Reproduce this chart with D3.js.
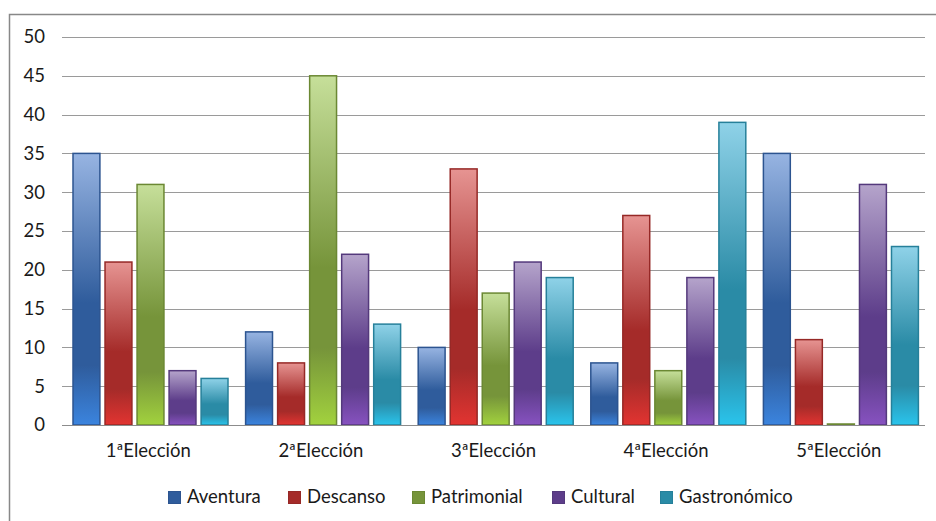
<!DOCTYPE html>
<html>
<head>
<meta charset="utf-8">
<script src="https://cdn.jsdelivr.net/npm/d3@7"></script>
<style>
  html, body { margin: 0; padding: 0; background: #fff; }
  svg { display: block; font-family: Lato, "Open Sans", sans-serif; }
</style>
</head>
<body>
<svg id="chart" width="936" height="521"></svg>
<script>
// Chart data
const categories = ["1ªElección", "2ªElección", "3ªElección", "4ªElección", "5ªElección"];
const seriesNames = ["Aventura", "Descanso", "Patrimonial", "Cultural", "Gastronómico"];
const aventura     = [35, 12, 10, 8, 35];
const descanso     = [21, 8, 33, 27, 11];
const patrimonial  = [31, 45, 17, 7, 0];
const cultural     = [7, 22, 21, 19, 31];
const gastronomico = [6, 13, 19, 39, 23];
const yTicks = [0, 5, 10, 15, 20, 25, 30, 35, 40, 45, 50];

const seriesValues = [aventura, descanso, patrimonial, cultural, gastronomico];

// Gradient stops per series: top, middle, bottom, and border colour
const palette = [
  { top: "#97b4e2", mid: "#2f5c9c", bot: "#3b84de", stroke: "#2c5490" },
  { top: "#e69492", mid: "#a52b29", bot: "#e23431", stroke: "#962826" },
  { top: "#c6df9a", mid: "#76943a", bot: "#a2d23e", stroke: "#6b8833" },
  { top: "#b5a4cb", mid: "#5d3d8a", bot: "#8752c0", stroke: "#54397c" },
  { top: "#8fd2e8", mid: "#2a8ba6", bot: "#2ac4ec", stroke: "#26809a" }
];
const legendSwatch = ["#2f5c9c", "#a52b29", "#76943a", "#5d3d8a", "#2a8ba6"];

const FONT = "Lato, 'Open Sans', sans-serif";
const FONT_SIZE = 18.5;
const TEXT = "#1a1a1a";

const svg = d3.select("#chart");

// Outer frame of the chart area
svg.append("path")
  .attr("d", "M9.5,521 L9.5,14.5 L936,14.5")
  .attr("fill", "none")
  .attr("stroke", "#888")
  .attr("stroke-width", 1.5);

const plot = { left: 62, right: 925, top: 37, bottom: 425 };

const x = d3.scaleBand()
  .domain(categories)
  .range([plot.left, plot.right]);

// Position of each series inside a category slot
const xInner = d3.scaleBand()
  .domain(seriesNames)
  .range([11, 166])
  .paddingInner(0.16)
  .paddingOuter(0);

const y = d3.scaleLinear()
  .domain([0, 50])
  .range([plot.bottom, plot.top]);

// Gradients
const defs = svg.append("defs");
palette.forEach((p, i) => {
  const g = defs.append("linearGradient")
    .attr("id", "grad" + i)
    .attr("x1", 0).attr("y1", 0).attr("x2", 0).attr("y2", 1);
  g.append("stop").attr("offset", "0%").attr("stop-color", p.top);
  g.append("stop").attr("offset", "55%").attr("stop-color", p.mid);
  g.append("stop").attr("offset", "78%").attr("stop-color", p.mid);
  g.append("stop").attr("offset", "100%").attr("stop-color", p.bot);
});

// Horizontal gridlines
svg.append("g")
  .selectAll("line")
  .data(yTicks.filter(t => t > 0))
  .join("line")
  .attr("x1", plot.left).attr("x2", plot.right)
  .attr("y1", d => Math.round(y(d)) + 0.5)
  .attr("y2", d => Math.round(y(d)) + 0.5)
  .attr("stroke", "#9a9a9a")
  .attr("stroke-width", 1);

// Y axis labels
const yAxis = d3.axisLeft(y).tickValues(yTicks).tickSize(0).tickPadding(0);
svg.append("g")
  .attr("transform", `translate(${plot.left - 17},0)`)
  .call(yAxis)
  .call(g => g.select(".domain").remove())
  .call(g => g.selectAll("text")
    .attr("fill", TEXT)
    .attr("font-size", FONT_SIZE)
    .attr("font-family", FONT));

// Bars
const groups = svg.append("g")
  .selectAll("g")
  .data(categories)
  .join("g")
  .attr("transform", d => `translate(${x(d)},0)`);

groups.selectAll("rect")
  .data((c, ci) => seriesNames.map((s, si) => ({ s, si, v: seriesValues[si][ci] })))
  .join("rect")
  .attr("x", d => xInner(d.s))
  .attr("width", xInner.bandwidth())
  .attr("y", d => Math.min(y(d.v), y(0) - 1))
  .attr("height", d => Math.max(y(0) - y(d.v), 1))
  .attr("fill", d => `url(#grad${d.si})`)
  .attr("stroke", d => palette[d.si].stroke)
  .attr("stroke-width", 1.5);

// Baseline at zero
svg.append("line")
  .attr("x1", plot.left).attr("x2", plot.right)
  .attr("y1", y(0) + 0.5).attr("y2", y(0) + 0.5)
  .attr("stroke", "#8c8c8c")
  .attr("stroke-width", 1.2);

// Category labels
const xAxis = d3.axisBottom(x).tickSize(0).tickPadding(0);
svg.append("g")
  .attr("transform", `translate(0,${plot.bottom + 19})`)
  .call(xAxis)
  .call(g => g.select(".domain").remove())
  .call(g => g.selectAll("text")
    .attr("fill", TEXT)
    .attr("font-size", FONT_SIZE)
    .attr("font-family", FONT));

// Legend
const legendX = [168, 288, 412, 552, 660];
const legend = svg.append("g")
  .selectAll("g")
  .data(seriesNames)
  .join("g")
  .attr("transform", (d, i) => `translate(${legendX[i]},491)`);

legend.append("rect")
  .attr("x", 0.5).attr("y", 0.5)
  .attr("width", 12).attr("height", 12)
  .attr("fill", (d, i) => legendSwatch[i])
  .attr("stroke", (d, i) => palette[i].stroke)
  .attr("stroke-width", 1);

legend.append("text")
  .attr("x", 19)
  .attr("y", 12)
  .attr("fill", TEXT)
  .attr("font-size", FONT_SIZE)
  .attr("font-family", FONT)
  .text(d => d);
</script>
</body>
</html>
